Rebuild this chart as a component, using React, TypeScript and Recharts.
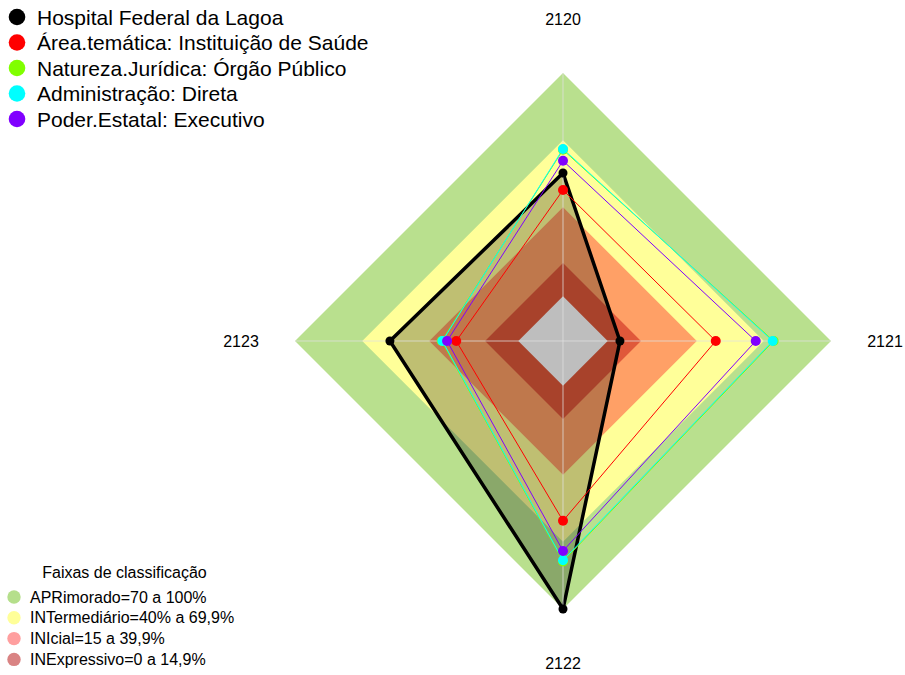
import { RadarChart, Radar, PolarAngleAxis, PolarRadiusAxis } from "recharts";

const axes = ["2120", "2121", "2122", "2123"];

const seriesNames = [
  "Hospital Federal da Lagoa",
  "Área.temática: Instituição de Saúde",
  "Natureza.Jurídica: Órgão Público",
  "Administração: Direta",
  "Poder.Estatal: Executivo",
];
const seriesColors = ["#000000", "#ff0000", "#80ff00", "#00ffff", "#8000ff"];

const hospital = [55.2, 5.5, 100, 57.5];
const areaTematica = [47.6, 48.4, 60.5, 27.8];
const natureza = [65.6, 74.3, 78.7, 34.3];
const administracao = [66.0, 73.9, 78.2, 34.0];
const poderEstatal = [60.7, 66.3, 74.0, 31.9];

const bandLevels = [100, 69.9, 39.9, 14.9];
const bandFills = ["#b9e08e", "#ffff99", "#ffa066", "#e0583a"];
const centerLevel = 0;
const centerFill = "#bebebe";

const bandNames = [
  "APRimorado=70 a 100%",
  "INTermediário=40% a 69,9%",
  "INIcial=15 a 39,9%",
  "INExpressivo=0 a 14,9%",
];
const bandLegendColors = ["#b5df8b", "#ffff99", "#ff9f9f", "#d98383"];

const seriesValues = [hospital, areaTematica, natureza, administracao, poderEstatal];

const data = axes.map((axis, i) => {
  const row: Record<string, string | number> = { axis, center: centerLevel };
  bandLevels.forEach((v, b) => (row["band" + b] = v));
  seriesValues.forEach((s, k) => (row["s" + k] = s[i]));
  return row;
});

const CX = 563;
const CY = 341;
const R = 268;
const LABEL_R = 322;
const FONT = "'Liberation Sans', Arial, sans-serif";

const renderTick = (props: any) => {
  const angle = props.payload.coordinate;
  const rad = (-angle * Math.PI) / 180;
  const cos = Math.cos(rad);
  const sin = Math.sin(rad);
  return (
    <g>
      <line x1={CX} y1={CY} x2={CX + R * cos} y2={CY + R * sin} stroke="#e0e0e0" strokeOpacity={0.75} strokeWidth={1} />
      <text
        x={CX + LABEL_R * cos}
        y={CY + LABEL_R * sin}
        textAnchor="middle"
        dominantBaseline="central"
        fontSize={16}
        fill="#000"
        fontFamily={FONT}
      >
        {props.payload.value}
      </text>
    </g>
  );
};

const seriesRadar = (k: number) => (
  <Radar
    key={"s" + k}
    dataKey={"s" + k}
    stroke={seriesColors[k]}
    strokeWidth={k === 0 ? 3.5 : 1}
    fill={k === 0 ? "#000" : "none"}
    fillOpacity={k === 0 ? 0.25 : 0}
    dot={{ r: k === 0 ? 4.5 : 5, fill: seriesColors[k], stroke: "none", strokeWidth: 0, fillOpacity: 1 }}
    isAnimationActive={false}
  />
);

export default function App() {
  return (
    <div style={{ position: "absolute", left: 0, top: 0, width: 905, height: 675, background: "#fff" }}>
      <RadarChart width={905} height={675} cx={CX} cy={CY} outerRadius={R} data={data} margin={{ top: 0, right: 0, bottom: 0, left: 0 }}>
        <PolarRadiusAxis type="number" domain={[-20, 100]} tick={false} axisLine={false} />
        {bandLevels.map((_, b) => (
          <Radar
            key={"band" + b}
            dataKey={"band" + b}
            stroke="none"
            fill={bandFills[b]}
            fillOpacity={1}
            dot={false}
            isAnimationActive={false}
          />
        ))}
        {seriesRadar(0)}
        <Radar dataKey="center" stroke="none" fill={centerFill} fillOpacity={1} dot={false} isAnimationActive={false} />
        <PolarAngleAxis dataKey="axis" tick={renderTick} axisLine={false} tickLine={false} />
        {[1, 2, 3, 4].map((k) => seriesRadar(k))}
      </RadarChart>
      <svg width={905} height={675} style={{ position: "absolute", left: 0, top: 0, pointerEvents: "none" }}>
        {seriesNames.map((name, i) => (
          <g key={name}>
            <circle cx={17} cy={17 + i * 25.5} r={8.3} fill={seriesColors[i]} />
            <text x={37} y={17 + i * 25.5} dominantBaseline="central" fontSize={21} fontFamily={FONT} fill="#000">
              {name}
            </text>
          </g>
        ))}
        <text x={124.5} y={572} textAnchor="middle" dominantBaseline="central" fontSize={16} fontFamily={FONT} fill="#000">
          Faixas de classificação
        </text>
        {bandNames.map((name, i) => (
          <g key={name}>
            <circle cx={14} cy={597 + i * 20.8} r={6.7} fill={bandLegendColors[i]} />
            <text x={30} y={597 + i * 20.8} dominantBaseline="central" fontSize={16} fontFamily={FONT} fill="#000">
              {name}
            </text>
          </g>
        ))}
      </svg>
    </div>
  );
}
